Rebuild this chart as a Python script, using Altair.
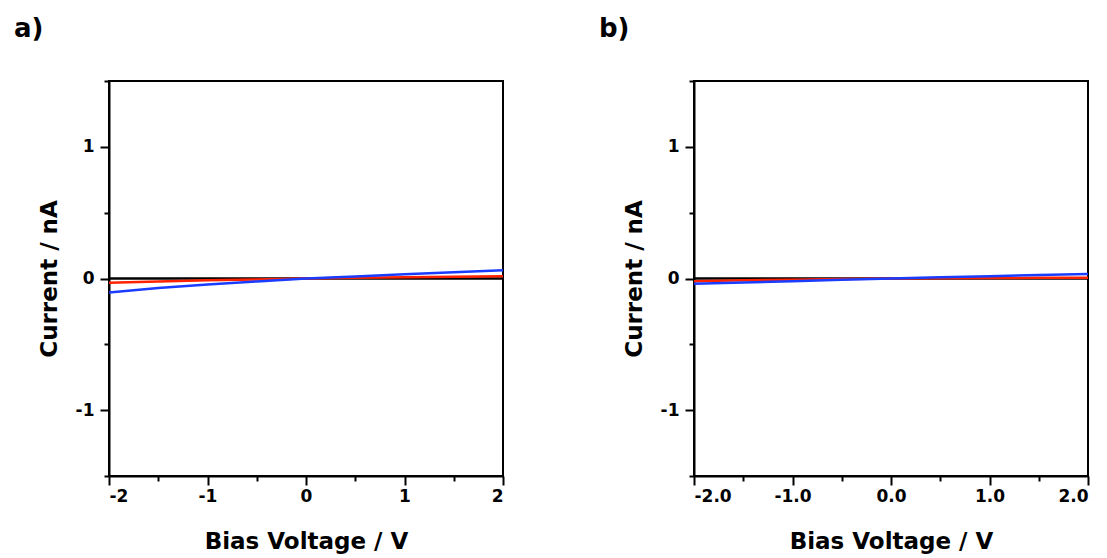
import altair as alt
import pandas as pd

# ---- data ----
voltage = [-2.0, -1.5, -1.0, -0.5, 0.0, 0.5, 1.0, 1.5, 2.0]

a_black = [0.0, 0.0, 0.0, 0.0, 0.0, 0.0, 0.0, 0.0, 0.0]
a_red = [-0.033, -0.022, -0.014, -0.007, 0.0, 0.005, 0.010, 0.014, 0.018]
a_blue = [-0.106, -0.072, -0.046, -0.022, 0.0, 0.016, 0.032, 0.048, 0.063]

b_black = [0.0, 0.0, 0.0, 0.0, 0.0, 0.0, 0.0, 0.0, 0.0]
b_red = [-0.020, -0.014, -0.009, -0.004, 0.0, 0.002, 0.004, 0.005, 0.006]
b_blue = [-0.040, -0.030, -0.020, -0.010, 0.0, 0.009, 0.018, 0.027, 0.035]

x_major = [-2, -1, 0, 1, 2]
x_minor = [-1.5, -0.5, 0.5, 1.5]
y_major = [-1, 0, 1]
y_minor = [-1.5, -0.5, 0.5, 1.5]

colors = {"black": "#000000", "red": "#FF2200", "blue": "#1A3CFF"}
FONT = "DejaVu Sans"


def make_df(black, red, blue):
    rows = []
    for name, vals in (("black", black), ("red", red), ("blue", blue)):
        for v, c in zip(voltage, vals):
            rows.append({"v": v, "i": c, "s": name})
    return pd.DataFrame(rows)


def hyphen_expr(fmt):
    return (f"datum.value < 0 ? '-' + format(-datum.value, '{fmt}') "
            f": format(datum.value, '{fmt}')")


def panel(df, letter, fmt):
    xs = alt.Scale(domain=[-2, 2], nice=False, zero=False)
    ys = alt.Scale(domain=[-1.5, 1.5], nice=False, zero=False)
    ax_major = alt.Axis(values=x_major, labelExpr=hyphen_expr(fmt), tickSize=9,
                        orient="bottom", title="Bias Voltage / V",
                        labelPadding=3, titlePadding=26)
    ay_major = alt.Axis(values=y_major, labelExpr=hyphen_expr("d"), tickSize=9,
                        orient="left", title="Current / nA",
                        labelPadding=6, titlePadding=14)
    ax_minor = alt.Axis(values=x_minor, tickSize=5, orient="bottom", labels=False,
                        domain=False, title=None)
    ay_minor = alt.Axis(values=y_minor, tickSize=5, orient="left", labels=False,
                        domain=False, title=None)
    base = alt.Chart(df)
    layers = []
    for k, name in enumerate(["black", "red", "blue"]):
        if k == 0:
            xa, ya = ax_major, ay_major
        elif k == 1:
            xa, ya = ax_minor, ay_minor
        else:
            xa, ya = None, None
        layers.append(
            base.transform_filter(alt.datum.s == name)
            .mark_line(strokeWidth=2.5, clip=True, color=colors[name])
            .encode(
                x=alt.X("v:Q", scale=xs, axis=xa),
                y=alt.Y("i:Q", scale=ys, axis=ya),
            )
        )
    return (
        alt.layer(*layers)
        .resolve_axis(x="independent", y="independent")
        .properties(
            width=394,
            height=395,
            title=alt.TitleParams(letter, anchor="start", frame="group", dx=-95,
                                  offset=38, fontSize=26, font=FONT, fontWeight="bold"),
        )
    )


pa = panel(make_df(a_black, a_red, a_blue), "a)", "d")
pb = panel(make_df(b_black, b_red, b_blue), "b)", ".1f")

chart = (
    alt.hconcat(pa, pb, spacing=93)
    .configure_view(stroke="black", strokeWidth=2)
    .configure_axis(
        grid=False,
        domainColor="black",
        domainWidth=2,
        tickColor="black",
        tickWidth=2,
        labelFont=FONT,
        labelFontSize=17,
        labelFontWeight="bold",
        labelColor="black",
        titleFont=FONT,
        titleFontSize=23,
        titleFontWeight="bold",
        titleColor="black",
    )
    .properties(background="white",
                padding={"top": 7, "left": 5, "right": 5, "bottom": 0})
)

chart.save("out.html", embed_options={"renderer": "svg", "actions": False})
